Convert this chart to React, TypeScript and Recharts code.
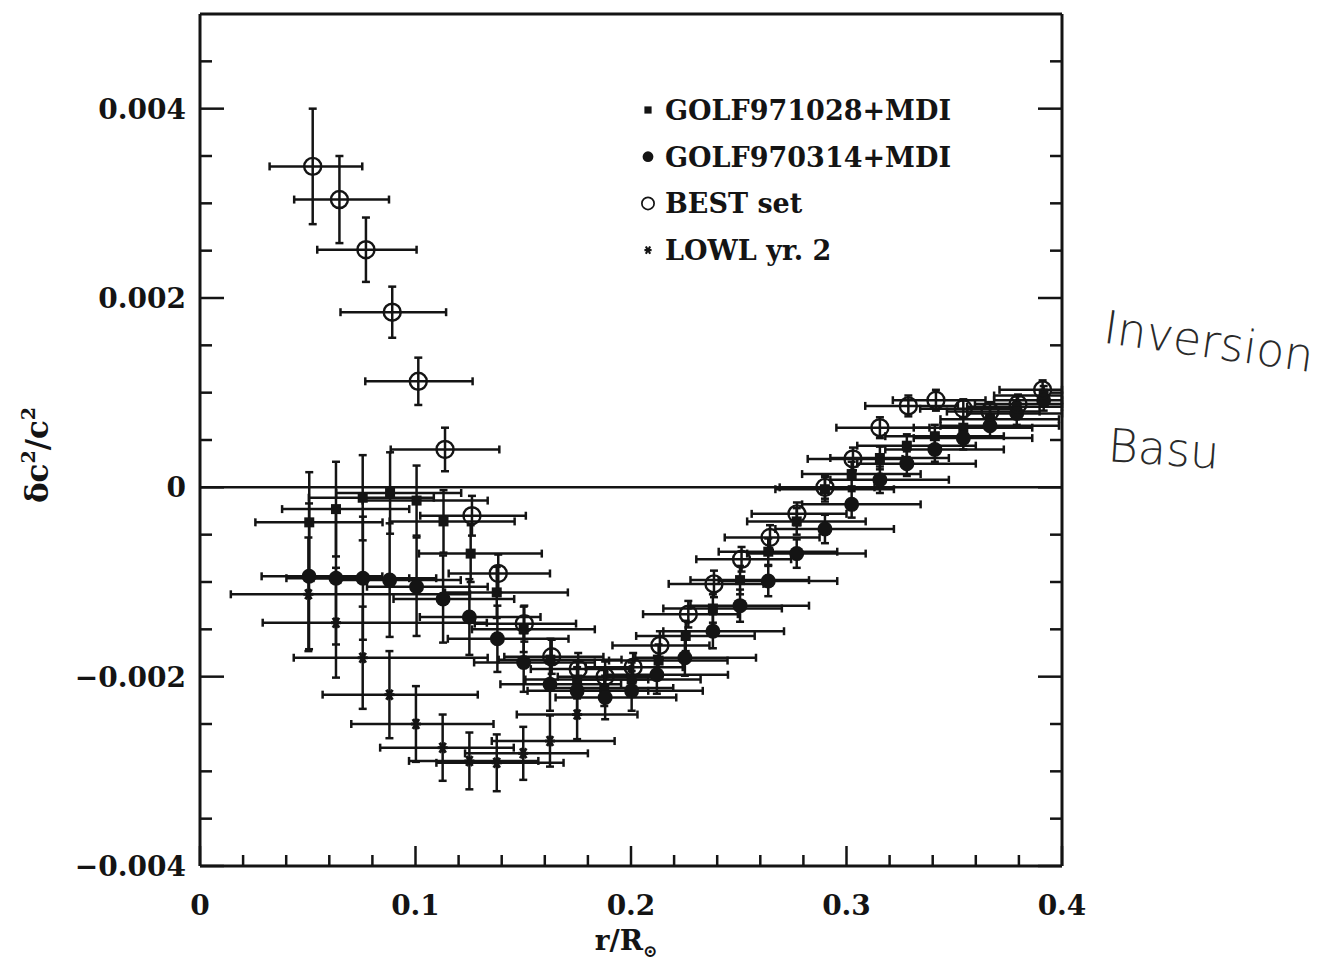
import React from "react";
import { ScatterChart, Scatter, XAxis, YAxis, ErrorBar, ReferenceLine, Legend } from "recharts";

// tick values and labels
const X_TICKS = [0, 0.02, 0.04, 0.06, 0.08, 0.1, 0.12, 0.14, 0.16, 0.18, 0.2, 0.22, 0.24, 0.26, 0.28, 0.3, 0.32, 0.34, 0.36, 0.38, 0.4];
const X_MAJOR = [0, 0.1, 0.2, 0.3, 0.4];
const X_LABELS = ["0", "0.1", "0.2", "0.3", "0.4"];
const Y_TICKS = [-0.004, -0.0035, -0.003, -0.0025, -0.002, -0.0015, -0.001, -0.0005, 0, 0.0005, 0.001, 0.0015, 0.002, 0.0025, 0.003, 0.0035, 0.004, 0.0045];
const Y_MAJOR = [-0.004, -0.002, 0, 0.002, 0.004];
const Y_LABELS = ["\u22120.004", "\u22120.002", "0", "0.002", "0.004"];
const X_MAX = 0.4;

// GOLF971028+MDI (filled squares)
const sqX = [0.0507, 0.0631, 0.0755, 0.0882, 0.1005, 0.113, 0.1256, 0.1377, 0.1502, 0.1626, 0.175, 0.1876, 0.2003, 0.2128, 0.2254, 0.238, 0.2506, 0.2637, 0.2769, 0.29, 0.3024, 0.3155, 0.328, 0.341, 0.3542, 0.3666, 0.379, 0.3915];
const sqY = [-0.00037, -0.00023, -0.00011, -0.00006, -0.00014, -0.00036, -0.0007, -0.00111, -0.0015, -0.00182, -0.00203, -0.00212, -0.00203, -0.00183, -0.00157, -0.00128, -0.00098, -0.00068, -0.00036, -0.00002, 0.00014, 0.00031, 0.00044, 0.00054, 0.00063, 0.00072, 0.00085, 0.00097];
const sqEy = [0.00053, 0.0005, 0.00045, 0.00043, 0.00037, 0.00033, 0.0003, 0.00027, 0.00024, 0.00022, 0.0002, 0.00019, 0.00018, 0.00017, 0.00016, 0.00015, 0.00015, 0.00014, 0.00014, 0.00013, 0.00013, 0.00012, 0.00012, 0.00012, 0.00011, 0.00011, 0.00011, 0.0001];
const sqExL = [0.025, 0.025, 0.025, 0.025, 0.025, 0.025, 0.024, 0.024, 0.024, 0.024, 0.024, 0.024, 0.024, 0.023, 0.023, 0.023, 0.023, 0.023, 0.023, 0.023, 0.023, 0.023, 0.023, 0.023, 0.023, 0.023, 0.023, 0.023];
const sqExR = [0.034, 0.034, 0.033, 0.033, 0.033, 0.033, 0.033, 0.033, 0.033, 0.033, 0.033, 0.032, 0.032, 0.032, 0.032, 0.032, 0.032, 0.032, 0.032, 0.032, 0.032, 0.032, 0.032, 0.032, 0.032, 0.032, 0.032, 0.032];

// GOLF970314+MDI (filled circles)
const ciX = [0.0506, 0.0631, 0.0756, 0.088, 0.1005, 0.1128, 0.125, 0.138, 0.1502, 0.1624, 0.175, 0.188, 0.2003, 0.212, 0.225, 0.238, 0.2506, 0.2637, 0.2769, 0.29, 0.3024, 0.3155, 0.328, 0.341, 0.3542, 0.3666, 0.379, 0.3915];
const ciY = [-0.00094, -0.00096, -0.00096, -0.00098, -0.00105, -0.00118, -0.00137, -0.0016, -0.00185, -0.00208, -0.00215, -0.00222, -0.00215, -0.00198, -0.0018, -0.00152, -0.00125, -0.00099, -0.0007, -0.00044, -0.00018, 0.00008, 0.00025, 0.0004, 0.00052, 0.00065, 0.00078, 0.00092];
const ciEy = [0.00077, 0.0007, 0.00065, 0.0006, 0.00052, 0.00046, 0.0004, 0.00035, 0.00031, 0.00028, 0.00025, 0.00023, 0.00021, 0.0002, 0.00019, 0.00018, 0.00017, 0.00016, 0.00015, 0.00015, 0.00014, 0.00014, 0.00013, 0.00013, 0.00012, 0.00012, 0.00012, 0.00011];
const ciExL = [0.022, 0.023, 0.023, 0.023, 0.023, 0.023, 0.023, 0.023, 0.023, 0.023, 0.023, 0.023, 0.023, 0.023, 0.023, 0.023, 0.023, 0.023, 0.023, 0.023, 0.023, 0.023, 0.023, 0.023, 0.023, 0.023, 0.023, 0.023];
const ciExR = [0.034, 0.034, 0.034, 0.033, 0.033, 0.033, 0.033, 0.033, 0.033, 0.033, 0.033, 0.033, 0.033, 0.033, 0.033, 0.033, 0.032, 0.032, 0.032, 0.032, 0.032, 0.032, 0.032, 0.032, 0.032, 0.032, 0.032, 0.032];

// BEST set (open circles)
const beX = [0.0523, 0.0647, 0.077, 0.0892, 0.1013, 0.1137, 0.1262, 0.1384, 0.1505, 0.1632, 0.1755, 0.188, 0.201, 0.2134, 0.2266, 0.2385, 0.2513, 0.2645, 0.277, 0.29, 0.303, 0.3155, 0.3287, 0.3415, 0.3542, 0.3666, 0.3796, 0.391];
const beY = [0.00339, 0.00304, 0.00251, 0.00185, 0.00112, 0.0004, -0.0003, -0.00091, -0.00144, -0.00179, -0.00192, -0.002, -0.0019, -0.00167, -0.00134, -0.00102, -0.00076, -0.00053, -0.00028, 0.0, 0.0003, 0.00063, 0.00086, 0.00092, 0.00083, 0.0008, 0.00088, 0.00103];
const beEy = [0.00061, 0.00046, 0.00034, 0.00027, 0.00025, 0.00023, 0.00021, 0.0002, 0.00019, 0.00018, 0.00017, 0.00016, 0.00015, 0.00015, 0.00014, 0.00014, 0.00013, 0.00013, 0.00012, 0.00012, 0.00012, 0.00011, 0.00011, 0.00011, 0.0001, 0.0001, 0.0001, 0.0001];
const beExL = [0.02, 0.021, 0.0226, 0.024, 0.0246, 0.0252, 0.024, 0.023, 0.023, 0.022, 0.022, 0.022, 0.022, 0.022, 0.021, 0.021, 0.021, 0.021, 0.021, 0.021, 0.021, 0.0202, 0.02, 0.02, 0.02, 0.02, 0.02, 0.02];
const beExR = [0.023, 0.023, 0.0235, 0.025, 0.0252, 0.0252, 0.025, 0.024, 0.024, 0.024, 0.024, 0.023, 0.023, 0.023, 0.023, 0.023, 0.023, 0.023, 0.023, 0.023, 0.023, 0.023, 0.023, 0.023, 0.023, 0.023, 0.023, 0.023];

// LOWL yr. 2 (asterisks)
const loX = [0.0503, 0.0631, 0.0755, 0.0879, 0.1002, 0.1126, 0.125, 0.1377, 0.15, 0.1624, 0.175];
const loY = [-0.00113, -0.00143, -0.0018, -0.00219, -0.0025, -0.00275, -0.00289, -0.00291, -0.00281, -0.00268, -0.0024];
const loEy = [0.0006, 0.00058, 0.00054, 0.00046, 0.0004, 0.00035, 0.0003, 0.0003, 0.00028, 0.00027, 0.00026];
const loExL = [0.036, 0.034, 0.032, 0.031, 0.03, 0.029, 0.028, 0.028, 0.027, 0.027, 0.028];
const loExR = [0.075, 0.07, 0.058, 0.041, 0.036, 0.033, 0.032, 0.031, 0.03, 0.03, 0.028];

// bars that run past the frame are cut at the right axis, as in the original
const rows = (x: number[], y: number[], ey: number[], exl: number[], exr: number[]) =>
  x.map((v, i) => ({ x: v, y: y[i], ey: ey[i], ex: [exl[i], Math.min(exr[i], X_MAX - v)] }));

const squares = rows(sqX, sqY, sqEy, sqExL, sqExR);
const circles = rows(ciX, ciY, ciEy, ciExL, ciExR);
const best = rows(beX, beY, beEy, beExL, beExR);
const lowl = rows(loX, loY, loEy, loExL, loExR);

const INK = "#141414";
const FONT = '"DejaVu Serif", serif';

const near = (arr: number[], v: number) => arr.findIndex((m) => Math.abs(m - v) < 1e-9);

const BottomTick = (p: any) => {
  const i = near(X_MAJOR, p.payload.value);
  const len = i >= 0 ? 20 : 11;
  return (
    <g>
      <line x1={p.x} y1={p.y} x2={p.x} y2={p.y - len} stroke={INK} strokeWidth={2.5} />
      {i >= 0 && (
        <text x={p.x} y={p.y + 49} textAnchor="middle" fontFamily={FONT} fontWeight="bold" fontSize={28} fill={INK}>
          {X_LABELS[i]}
        </text>
      )}
    </g>
  );
};

const TopTick = (p: any) => {
  const len = near(X_MAJOR, p.payload.value) >= 0 ? 20 : 11;
  return <line x1={p.x} y1={p.y} x2={p.x} y2={p.y + len} stroke={INK} strokeWidth={2.5} />;
};

const LeftTick = (p: any) => {
  const i = near(Y_MAJOR, p.payload.value);
  const len = i >= 0 ? 24 : 12;
  return (
    <g>
      <line x1={p.x} y1={p.y} x2={p.x + len} y2={p.y} stroke={INK} strokeWidth={2.5} />
      {i >= 0 && (
        <text x={p.x - 14} y={p.y + 10} textAnchor="end" fontFamily={FONT} fontWeight="bold" fontSize={28} fill={INK}>
          {Y_LABELS[i]}
        </text>
      )}
    </g>
  );
};

const RightTick = (p: any) => {
  const len = near(Y_MAJOR, p.payload.value) >= 0 ? 24 : 12;
  return <line x1={p.x} y1={p.y} x2={p.x - len} y2={p.y} stroke={INK} strokeWidth={2.5} />;
};

const Square = (p: any) => <rect x={p.cx - 5} y={p.cy - 5} width={10} height={10} fill={INK} />;
const Dot = (p: any) => <circle cx={p.cx} cy={p.cy} r={7.5} fill={INK} />;
const Ring = (p: any) => <circle cx={p.cx} cy={p.cy} r={8.5} fill="none" stroke={INK} strokeWidth={2.4} />;
const Star = (p: any) => (
  <g stroke={INK} strokeWidth={3}>
    <line x1={p.cx - 5} y1={p.cy} x2={p.cx + 5} y2={p.cy} />
    <line x1={p.cx - 3} y1={p.cy - 5} x2={p.cx + 3} y2={p.cy + 5} />
    <line x1={p.cx + 3} y1={p.cy - 5} x2={p.cx - 3} y2={p.cy + 5} />
  </g>
);

const LEGEND = [
  { name: "GOLF971028+MDI", shape: Square },
  { name: "GOLF970314+MDI", shape: Dot },
  { name: "BEST set", shape: Ring },
  { name: "LOWL yr. 2", shape: Star },
];

const LegendBox = () => (
  <svg width={380} height={200}>
    {LEGEND.map((item, i) => {
      const cy = 32 + i * 46.7;
      const S = item.shape;
      return (
        <g key={item.name}>
          <g transform={`translate(20 ${cy}) scale(0.72) translate(-20 ${-cy})`}>
            <S cx={20} cy={cy} />
          </g>
          <text x={37} y={cy + 10} fontFamily={FONT} fontWeight="bold" fontSize={27} fill={INK}>
            {item.name}
          </text>
        </g>
      );
    })}
  </svg>
);

const XTitle = (p: any) => {
  const vb = p.viewBox;
  const cx = vb.x + vb.width / 2 - 5;
  return (
    <text x={cx} y={vb.y + 84} textAnchor="middle" fontFamily={FONT} fontWeight="bold" fontSize={28} fill={INK}>
      r/R
      <tspan fontSize={17} dy={7}>
        {"\u2299"}
      </tspan>
    </text>
  );
};

const YTitle = (p: any) => {
  const vb = p.viewBox;
  const cy = vb.y + vb.height / 2 + 15;
  return (
    <text
      x={40}
      y={cy}
      transform={`rotate(-90 40 ${cy})`}
      textAnchor="middle"
      fontFamily={FONT}
      fontWeight="bold"
      fontSize={31}
      fill={INK}
    >
      {"\u03b4c"}
      <tspan fontSize={19} dy={-13}>2</tspan>
      <tspan dy={13}>/c</tspan>
      <tspan fontSize={19} dy={-13}>2</tspan>
    </text>
  );
};

const errProps = { stroke: INK, strokeWidth: 2.5, width: 4, isAnimationActive: false };

export default function App() {
  return (
    <div style={{ position: "relative", width: 1311, height: 961, background: "#fff" }}>
      <ScatterChart width={1300} height={961} margin={{ top: 5, right: 245, bottom: 33, left: 8 }}>
        <XAxis
          type="number"
          dataKey="x"
          domain={[0, X_MAX]}
          ticks={X_TICKS}
          interval={0}
          allowDataOverflow
          height={70}
          tickSize={0}
          tickMargin={0}
          tick={<BottomTick />}
          axisLine={{ stroke: INK, strokeWidth: 3 }}
          label={{ content: XTitle }}
        />
        <XAxis
          xAxisId="top"
          orientation="top"
          type="number"
          domain={[0, X_MAX]}
          ticks={X_TICKS}
          interval={0}
          allowDataOverflow
          height={1}
          tickSize={0}
          tickMargin={0}
          tick={<TopTick />}
          axisLine={{ stroke: INK, strokeWidth: 3 }}
        />
        <YAxis
          type="number"
          dataKey="y"
          domain={[-0.004, 0.005]}
          ticks={Y_TICKS}
          interval={0}
          allowDataOverflow
          width={184}
          tickSize={0}
          tickMargin={0}
          tick={<LeftTick />}
          axisLine={{ stroke: INK, strokeWidth: 3 }}
          label={{ content: YTitle }}
        />
        <YAxis
          yAxisId="right"
          orientation="right"
          type="number"
          domain={[-0.004, 0.005]}
          ticks={Y_TICKS}
          interval={0}
          allowDataOverflow
          width={1}
          tickSize={0}
          tickMargin={0}
          tick={<RightTick />}
          axisLine={{ stroke: INK, strokeWidth: 3 }}
        />
        <ReferenceLine y={0} stroke={INK} strokeWidth={2.5} />
        <Scatter name="GOLF971028+MDI" data={squares} shape={Square} isAnimationActive={false}>
          <ErrorBar dataKey="ex" direction="x" {...errProps} />
          <ErrorBar dataKey="ey" direction="y" {...errProps} />
        </Scatter>
        <Scatter name="GOLF970314+MDI" data={circles} shape={Dot} isAnimationActive={false}>
          <ErrorBar dataKey="ex" direction="x" {...errProps} />
          <ErrorBar dataKey="ey" direction="y" {...errProps} />
        </Scatter>
        <Scatter name="BEST set" data={best} shape={Ring} isAnimationActive={false}>
          <ErrorBar dataKey="ex" direction="x" {...errProps} />
          <ErrorBar dataKey="ey" direction="y" {...errProps} />
        </Scatter>
        <Scatter name="LOWL yr. 2" data={lowl} shape={Star} isAnimationActive={false}>
          <ErrorBar dataKey="ex" direction="x" {...errProps} />
          <ErrorBar dataKey="ey" direction="y" {...errProps} />
        </Scatter>
        <Legend
          layout="vertical"
          align="center"
          verticalAlign="middle"
          wrapperStyle={{ left: 620, top: 70, right: "auto", bottom: "auto", width: 380 }}
          content={LegendBox}
        />
      </ScatterChart>
      <div
        style={{
          position: "absolute",
          left: 1100,
          top: 292,
          fontFamily: '"DejaVu Sans ExtraLight", "DejaVu Sans", sans-serif',
          fontWeight: 200,
          fontSize: 46,
          color: "#2a2a2a",
          transform: "rotate(8deg)",
          transformOrigin: "left top",
        }}
      >
        Inversion
      </div>
      <div
        style={{
          position: "absolute",
          left: 1102,
          top: 410,
          fontFamily: '"DejaVu Sans ExtraLight", "DejaVu Sans", sans-serif',
          fontWeight: 200,
          fontSize: 46,
          color: "#2a2a2a",
          transform: "rotate(4deg)",
          transformOrigin: "left top",
        }}
      >
        Basu
      </div>
    </div>
  );
}
